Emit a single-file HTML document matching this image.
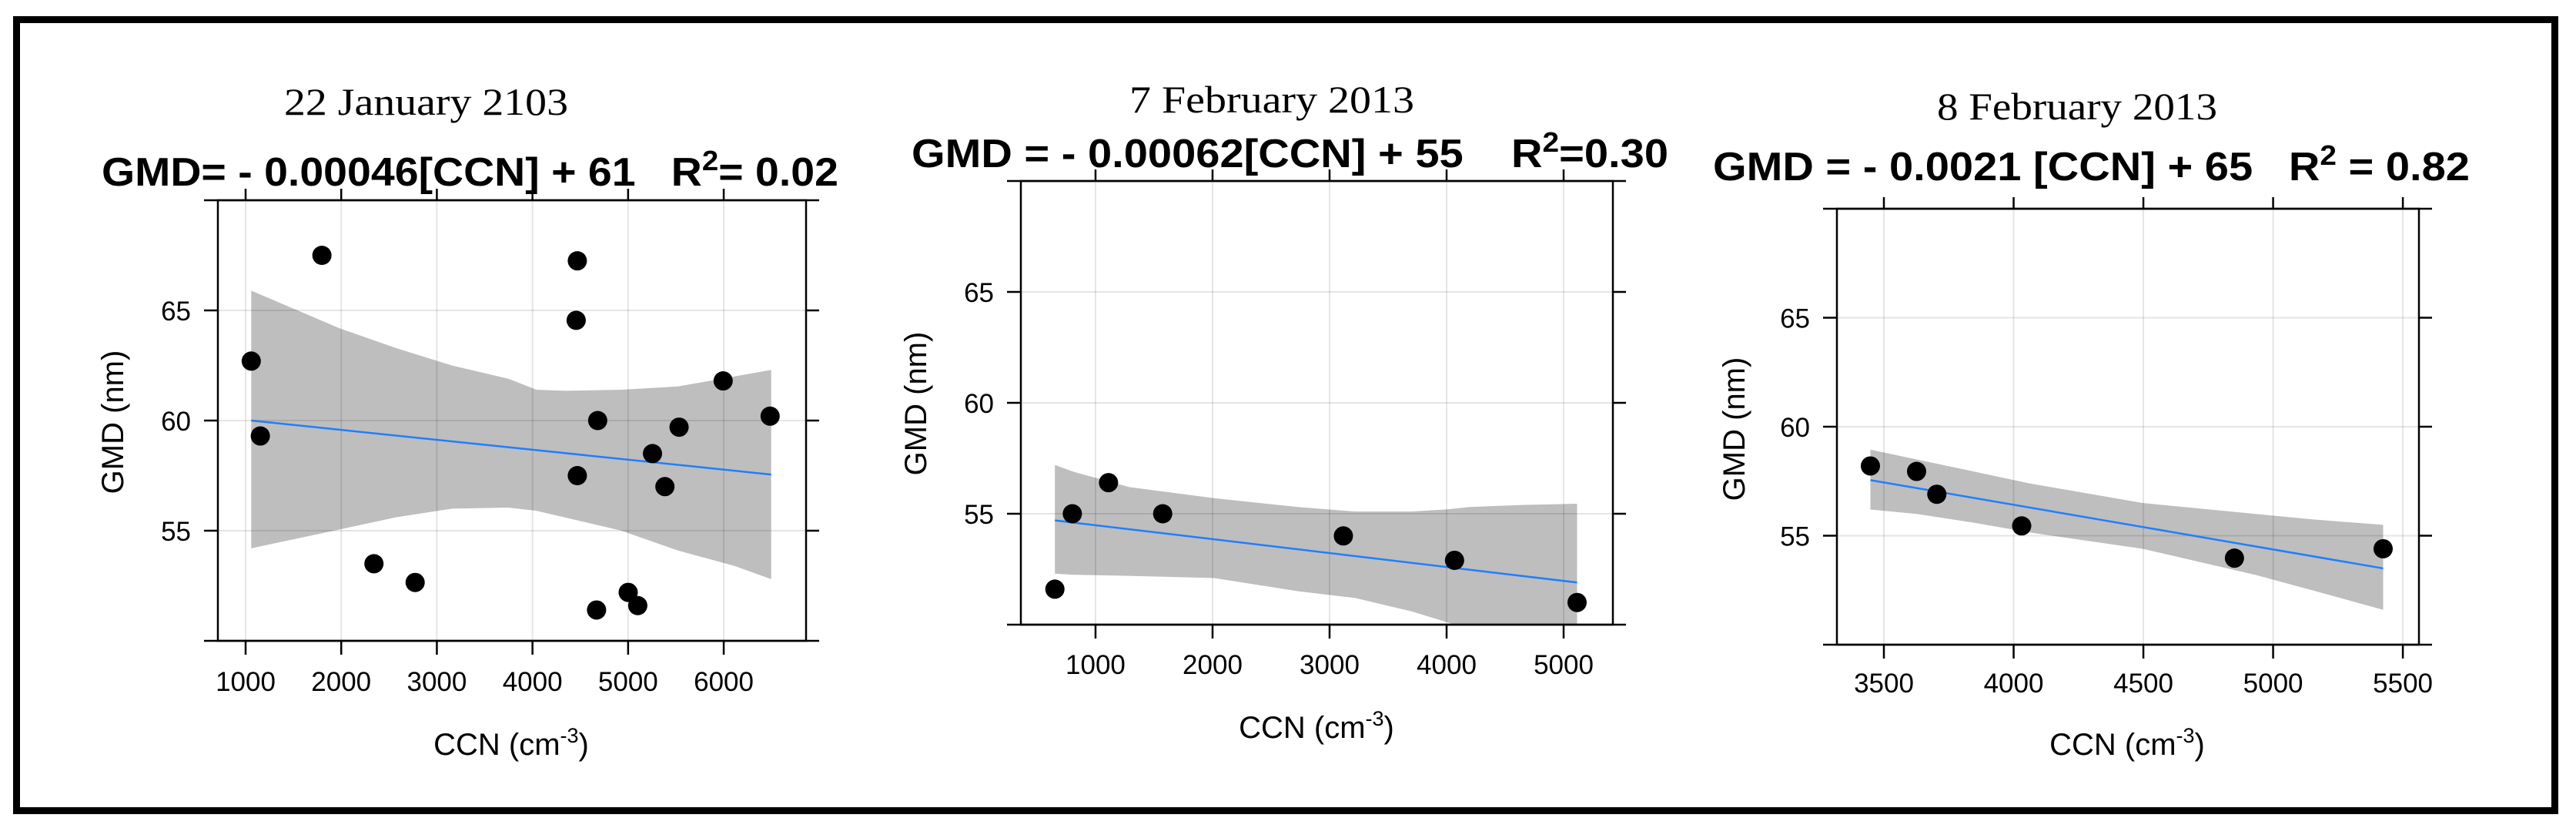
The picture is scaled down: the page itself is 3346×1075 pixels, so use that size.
<!DOCTYPE html>
<html><head><meta charset="utf-8"><style>
html,body{margin:0;padding:0;background:#fff}
svg{display:block}
text{font-family:"Liberation Sans",sans-serif}
.serif{font-family:"Liberation Serif",serif}
</style></head><body>
<svg id="fig" width="3346" height="1075" viewBox="0 0 3346 1075" xmlns="http://www.w3.org/2000/svg">
<rect x="21.5" y="25.5" width="3297" height="1027" fill="none" stroke="#000" stroke-width="9"/>
</svg>
<script>
// Panel 1: 22 January
const p1X = [1798,4469,4457,1059,5994,6485,4682,5533,1154,5255,4469,5385,2342,2773,5001,5101,4670];
const p1Y = [67.5,67.25,64.55,62.7,61.8,60.2,60.0,59.7,59.3,58.5,57.5,57.0,53.5,52.65,52.2,51.6,51.4];
const p1BandX = [1059,1975,2566,3157,3748,4043,4339,4930,5521,6112,6496];
const p1BandHi = [65.9,64.2,63.3,62.5,61.9,61.4,61.35,61.4,61.55,62.0,62.3];
const p1BandLo = [54.2,55.05,55.6,56.0,56.05,55.9,55.6,55.0,54.1,53.4,52.8];
const p1Fit = [[1059,60.0],[6496,57.55]];
const p1XTicks = [1000,2000,3000,4000,5000,6000];
// Panel 2: 7 February
const p2X = [653,802,1111,1574,3118,4068,5115];
const p2Y = [51.6,55.0,56.4,55.0,54.0,52.9,51.0];
const p2BandX = [653,807,1289,2013,2737,3219,3701,4010,4184,4425,4666,5115];
const p2BandHi = [57.2,56.9,56.2,55.7,55.3,55.1,55.1,55.2,55.3,55.35,55.4,55.45];
const p2BandLo = [52.3,52.25,52.2,52.1,51.5,51.2,50.6,50.1,49.8,49.6,49.4,49.1];
const p2Fit = [[653,54.7],[5115,51.9]];
const p2XTicks = [1000,2000,3000,4000,5000];
// Panel 3: 8 February
const p3X = [3448,3626,3704,4031,4851,5424];
const p3Y = [58.2,57.95,56.9,55.45,53.97,54.4];
const p3BandX = [3448,3626,3844,4061,4497,4932,5150,5424];
const p3BandHi = [58.95,58.5,57.95,57.4,56.5,56.0,55.75,55.5];
const p3BandLo = [56.2,56.0,55.6,55.15,54.4,53.2,52.5,51.6];
const p3Fit = [[3448,57.55],[5424,53.5]];
const p3XTicks = [3500,4000,4500,5000,5500];
const yTicks = [55,60,65];

const NS="http://www.w3.org/2000/svg";
const svg=document.getElementById('fig');
function mk(tag,attrs,parent){const e=document.createElementNS(NS,tag);for(const k in attrs)e.setAttribute(k,attrs[k]);(parent||svg).appendChild(e);return e;}

const panels=[
 {id:1,L:283,R:1047,T:260,B:832,x0:710,x1:6861,xs:p1X,ys:p1Y,bx:p1BandX,bh:p1BandHi,bl:p1BandLo,fit:p1Fit,xt:p1XTicks,
  date:"22 January 2103",dateX:369,dateW:369,dateY:149,eq:["GMD= - 0.00046[CCN] + 61   R","2","= 0.02"],eqX:132,eqW:957,eqY:241,
  ylx:248,xlabY:897,ytX:160,ytY:548,xtX:664,xtY:980},
 {id:2,L:1326,R:2095,T:235,B:811,x0:362,x1:5421,xs:p2X,ys:p2Y,bx:p2BandX,bh:p2BandHi,bl:p2BandLo,fit:p2Fit,xt:p2XTicks,
  date:"7 February 2013",dateX:1467,dateW:370,dateY:146,eq:["GMD = - 0.00062[CCN] + 55    R","2","=0.30"],eqX:1184,eqW:983,eqY:217,
  ylx:1291,xlabY:875,ytX:1203,ytY:524,xtX:1710,xtY:958},
 {id:3,L:2386,R:3142,T:271,B:837,x0:3319,x1:5562,xs:p3X,ys:p3Y,bx:p3BandX,bh:p3BandHi,bl:p3BandLo,fit:p3Fit,xt:p3XTicks,
  date:"8 February 2013",dateX:2516,dateW:364,dateY:155,eq:["GMD = - 0.0021 [CCN] + 65   R","2"," = 0.82"],eqX:2225,eqW:983,eqY:234,
  ylx:2351,xlabY:899,ytX:2266,ytY:557,xtX:2763,xtY:980}
];

panels.forEach(p=>{
 const g=mk('g',{});
 
 
 const sx=v=>p.L+(v-p.x0)/(p.x1-p.x0)*(p.R-p.L);
 const sy=v=>p.B-(v-50)/20*(p.B-p.T);
 const cp=mk('clipPath',{id:'clip'+p.id},g);
 mk('rect',{x:p.L,y:p.T,width:p.R-p.L,height:p.B-p.T},cp);
 let d='';
 p.bx.forEach((x,i)=>{d+=(i?'L':'M')+sx(x).toFixed(1)+','+sy(p.bh[i]).toFixed(1);});
 for(let i=p.bx.length-1;i>=0;i--)d+='L'+sx(p.bx[i]).toFixed(1)+','+sy(p.bl[i]).toFixed(1);
 const band=mk('path',{d:d+'Z',fill:'#bebebe','clip-path':'url(#clip'+p.id+')'},g);
 
 
 p.xt.forEach(t=>{const l=mk('line',{x1:sx(t),x2:sx(t),y1:p.T,y2:p.B,stroke:'rgba(0,0,0,0.1)','stroke-width':2},g);
  
  });
 yTicks.forEach(t=>{const l=mk('line',{x1:p.L,x2:p.R,y1:sy(t),y2:sy(t),stroke:'rgba(0,0,0,0.1)','stroke-width':2},g);
  
  });
 const fl=mk('line',{x1:sx(p.fit[0][0]),y1:sy(p.fit[0][1]),x2:sx(p.fit[1][0]),y2:sy(p.fit[1][1]),stroke:'#1e7fff','stroke-width':2.5},g);
 
 
 const fr=mk('rect',{x:p.L,y:p.T,width:p.R-p.L,height:p.B-p.T,fill:'none',stroke:'#000','stroke-width':2.5},g);
 
 
 mk('line',{x1:p.L-18,x2:p.R+17,y1:p.T,y2:p.T,stroke:'#000','stroke-width':2.5},g);
 mk('line',{x1:p.L-18,x2:p.R+17,y1:p.B,y2:p.B,stroke:'#000','stroke-width':2.5},g);
 p.xt.forEach(t=>{
  mk('line',{x1:sx(t),x2:sx(t),y1:p.B,y2:p.B+18,stroke:'#000','stroke-width':2.5},g);
  mk('line',{x1:sx(t),x2:sx(t),y1:p.T,y2:p.T-15,stroke:'#000','stroke-width':2.5},g);
  const tl=mk('text',{x:sx(t),y:p.xlabY,'font-size':35,'text-anchor':'middle',fill:'#000'},g);
  tl.textContent=t;
  
  
 });
 yTicks.forEach(t=>{
  mk('line',{x1:p.L-18,x2:p.L,y1:sy(t),y2:sy(t),stroke:'#000','stroke-width':2.5},g);
  mk('line',{x1:p.R,x2:p.R+17,y1:sy(t),y2:sy(t),stroke:'#000','stroke-width':2.5},g);
  const tl=mk('text',{x:p.ylx,y:sy(t)+13,'font-size':35,'text-anchor':'end',fill:'#000'},g);
  tl.textContent=t;
  
  
 });
 p.xs.forEach((x,i)=>{const c=mk('circle',{cx:sx(x),cy:sy(p.ys[i]),r:12.5,fill:'#000'},g);
  
  });
 const dt=mk('text',{x:p.dateX,y:p.dateY,'font-size':50,'class':'serif',textLength:p.dateW,lengthAdjust:'spacingAndGlyphs',fill:'#000'},g);
 dt.textContent=p.date;
 
 
 const eq=mk('text',{x:p.eqX,y:p.eqY,'font-size':52,'font-weight':'bold',textLength:p.eqW,lengthAdjust:'spacingAndGlyphs',fill:'#000','xml:space':'preserve'},g);
 eq.style.whiteSpace='pre';
 
 
 const t1=mk('tspan',{},eq);t1.textContent=p.eq[0];
 const t2=mk('tspan',{dy:-20,'font-size':36},eq);t2.textContent=p.eq[1];
 const t3=mk('tspan',{dy:20},eq);t3.textContent=p.eq[2];
 const yt=mk('text',{x:0,y:0,'font-size':40,'text-anchor':'middle',transform:`translate(${p.ytX},${p.ytY}) rotate(-90)`,fill:'#000'},g);
 yt.textContent='GMD (nm)';
 
 
 const xt=mk('text',{x:p.xtX,y:p.xtY,'font-size':40,'text-anchor':'middle',fill:'#000'},g);
 
 
 const a=mk('tspan',{},xt);a.textContent='CCN (cm';
 const b=mk('tspan',{dy:-16,'font-size':27},xt);b.textContent='-3';
 const c=mk('tspan',{dy:16},xt);c.textContent=')';
});
</script>
</body></html>
